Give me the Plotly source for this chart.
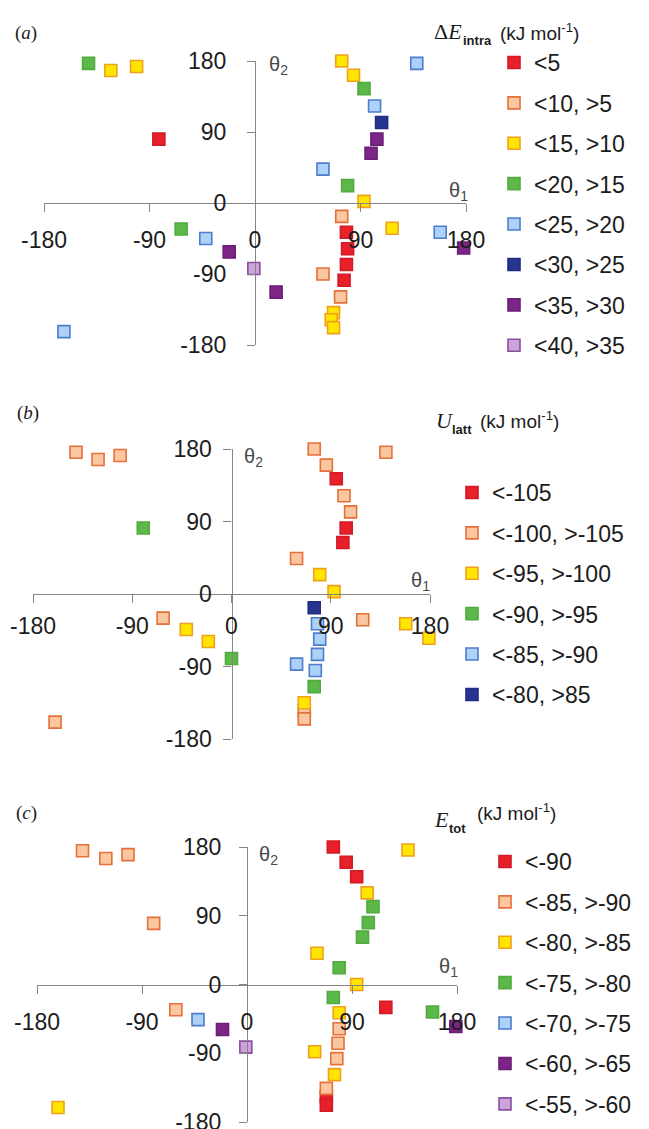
import plotly.graph_objects as go

# ---------------- data ----------------
# Panel (a): Delta E_intra bins
A_LABELS = ["<5", "<10, >5", "<15, >10", "<20, >15", "<25, >20", "<30, >25", "<35, >30", "<40, >35"]
A_T1 = [
    [-82, 78, 79, 78, 76],
    [58, 74, 73],
    [-123, -101, 74, 84, 93, 117, 67, 65, 67],
    [-142, 93, 79, -63],
    [58, 138, 102, -42, 158, -163],
    [108],
    [104, 99, -22, 18, 178],
    [-1],
]
A_T2 = [
    [81, -37, -58, -78, -98],
    [-90, -17, -119],
    [168, 173, 180, 162, 2, -32, -139, -148, -158],
    [177, 145, 22, -33],
    [43, 177, 123, -45, -37, -163],
    [102],
    [81, 63, -62, -113, -57],
    [-83],
]

# Panel (b): U_latt bins
B_LABELS = ["<-105", "<-100, >-105", "<-95, >-100", "<-90, >-95", "<-85, >-90", "<-80, >85"]
B_T1 = [
    [95, 104, 101],
    [-141, -121, -101, 75, 140, 86, 102, 108, 59, -62, 119, 66, 66, -160],
    [80, 93, -41, -21, 158, 179, 66],
    [-80, 0, 75],
    [78, 80, 78, 59, 76],
    [75],
]
B_T2 = [
    [143, 82, 64],
    [176, 167, 172, 180, 176, 160, 122, 102, 44, -30, -32, -145, -155, -159],
    [24, 3, -44, -59, -37, -55, -135],
    [82, -80, -115],
    [-37, -56, -75, -87, -95],
    [-17],
]

# Panel (c): E_tot bins
C_LABELS = ["<-90", "<-85, >-90", "<-80, >-85", "<-75, >-80", "<-70, >-75", "<-60, >-65", "<-55, >-60"]
C_T1 = [
    [74, 85, 94, 119, 68, 68],
    [-141, -121, -102, -80, -61, 79, 78, 77, 68],
    [138, 103, 60, 94, 79, 58, 75, -162],
    [108, 104, 99, 79, 74, 159],
    [-42],
    [-21, 179],
    [-1],
]
C_T2 = [
    [180, 160, 141, -30, -147, -158],
    [175, 165, 170, 80, -33, -58, -77, -97, -136],
    [176, 120, 41, 0, -37, -88, -118, -161],
    [102, 81, 62, 22, -17, -36],
    [-46],
    [-59, -55],
    [-82],
]

TICKS = [-180, -90, 0, 90, 180]
TICK_TEXT = ["-180", "-90", "0", "90", "180"]

# ---------------- styles ----------------
STYLE = {
    "red": ("#e8202a", "#d11b26"),
    "orange": ("#fbc7a0", "#e5703a"),
    "yellow": ("#ffe500", "#efa11d"),
    "green": ("#5cb848", "#52aa40"),
    "lblue": ("#add1f7", "#4d7dcc"),
    "dblue": ("#28358f", "#202c82"),
    "purple": ("#7c2586", "#6c1f77"),
    "lpurple": ("#caa4da", "#8c4f9e"),
}
A_KEYS = ["red", "orange", "yellow", "green", "lblue", "dblue", "purple", "lpurple"]
B_KEYS = ["red", "orange", "yellow", "green", "lblue", "dblue"]
C_KEYS = ["red", "orange", "yellow", "green", "lblue", "purple", "lpurple"]

W, H = 649, 1129
SANS = "Liberation Sans, Arial, sans-serif"
SERIF = "Liberation Serif, Times New Roman, serif"
AXIS_GRAY = "#858585"
TXT = "#1c1c1c"


def fx(px):
    return px / W


def fy(py):
    return 1 - py / H


# panel geometry in pixels
PANELS = [
    dict(x0=44, x1=466, y0=61, y1=345, xs=8, ys=16),
    dict(x0=33, x1=430, y0=449, y1=739, xs=3, ys=7),
    dict(x0=37, x1=457, y0=847, y1=1122, xs=9, ys=13),
]

fig = go.Figure()

datasets = [
    (A_LABELS, A_T1, A_T2, A_KEYS),
    (B_LABELS, B_T1, B_T2, B_KEYS),
    (C_LABELS, C_T1, C_T2, C_KEYS),
]

for p, (labels, t1, t2, keys) in enumerate(datasets):
    suffix = "" if p == 0 else str(p + 1)
    for i, lab in enumerate(labels):
        fill, line = STYLE[keys[i]]
        fig.add_trace(go.Scatter(
            x=t1[i], y=t2[i], mode="markers", name=lab,
            xaxis="x" + suffix, yaxis="y" + suffix,
            legend="legend" + suffix, legendgroup=f"p{p}g{i}",
            cliponaxis=False,
            marker=dict(symbol="square", size=12, color=fill,
                        line=dict(color=line, width=1.6)),
        ))

layout = dict(
    template="none",
    width=W, height=H,
    margin=dict(l=0, r=0, t=0, b=0, pad=0, autoexpand=False),
    paper_bgcolor="white", plot_bgcolor="rgba(0,0,0,0)",
    font=dict(family=SANS, color=TXT, size=16),
    showlegend=True,
)

for p, g in enumerate(PANELS):
    suffix = "" if p == 0 else str(p + 1)
    xd = [fx(g["x0"]), fx(g["x1"])]
    yd = [fy(g["y1"]), fy(g["y0"])]
    common = dict(
        range=[-180, 180], anchor="free", automargin=False,
        tickmode="array", tickvals=TICKS, ticktext=TICK_TEXT,
        ticks="outside", ticklen=8, tickwidth=1.3, tickcolor=AXIS_GRAY,
        showline=True, linecolor=AXIS_GRAY, linewidth=1.3,
        showgrid=False, zeroline=False, ticklabeloverflow="allow",
        tickfont=dict(size=23, color=TXT, family=SANS),
    )
    layout["xaxis" + suffix] = dict(
        domain=xd, position=(yd[0] + yd[1]) / 2, side="bottom",
        ticklabelstandoff=g["xs"], **common,
    )
    layout["yaxis" + suffix] = dict(
        domain=yd, position=(xd[0] + xd[1]) / 2, side="left",
        ticklabelstandoff=g["ys"], **common,
    )

LEG = [
    dict(x=494, y=41),
    dict(x=452, y=471),
    dict(x=485, y=840),
]
for p, lg in enumerate(LEG):
    name = "legend" if p == 0 else f"legend{p + 1}"
    layout[name] = dict(
        x=fx(lg["x"]), y=fy(lg["y"]), xanchor="left", yanchor="top",
        font=dict(size=23, color=TXT, family=SANS),
        bgcolor="rgba(0,0,0,0)", borderwidth=0,
        traceorder="grouped", tracegroupgap=7.5,
        itemclick=False, itemdoubleclick=False,
    )

ann = []


def text(x, y, s, size, family=SANS, color=TXT, xanchor="left"):
    ann.append(dict(x=fx(x), y=fy(y), xref="paper", yref="paper", text=s,
                    showarrow=False, xanchor=xanchor, yanchor="middle",
                    font=dict(size=size, family=family, color=color)))


# panel tags
text(13, 33, "(<i>a</i>)", 19, SERIF)
text(15, 413, "(<i>b</i>)", 19, SERIF)
text(14, 813, "(<i>c</i>)", 19, SERIF)

# theta labels
TH = "#4a4a4a"
text(267, 66, "θ<sub>2</sub>", 20, SANS, TH)
text(447, 192, "θ<sub>1</sub>", 20, SANS, TH)
text(242, 457, "θ<sub>2</sub>", 20, SANS, TH)
text(409, 581, "θ<sub>1</sub>", 20, SANS, TH)
text(257, 855, "θ<sub>2</sub>", 20, SANS, TH)
text(437, 967, "θ<sub>1</sub>", 20, SANS, TH)

# legend titles
UNIT = "(kJ mol<sup>-1</sup>)"
text(432, 32, "Δ<i>E</i>", 22, SERIF)
text(461, 41, "<b>intra</b>", 13, SANS)
text(498, 32, UNIT, 19, SANS)

text(434, 420, "<i>U</i>", 22, SERIF)
text(450, 429, "<b>latt</b>", 13, SANS)
text(478, 420, UNIT, 19, SANS)

text(432, 819, "<i>E</i>", 22, SERIF)
text(447, 828, "<b>tot</b>", 13, SANS)
text(475, 812, UNIT, 19, SANS)

layout["annotations"] = ann
fig.update_layout(**layout)

fig.write_html(
    "out.html",
    config={"displayModeBar": False},
    post_script="document.body.style.margin='0px';document.body.style.overflow='hidden';",
)
